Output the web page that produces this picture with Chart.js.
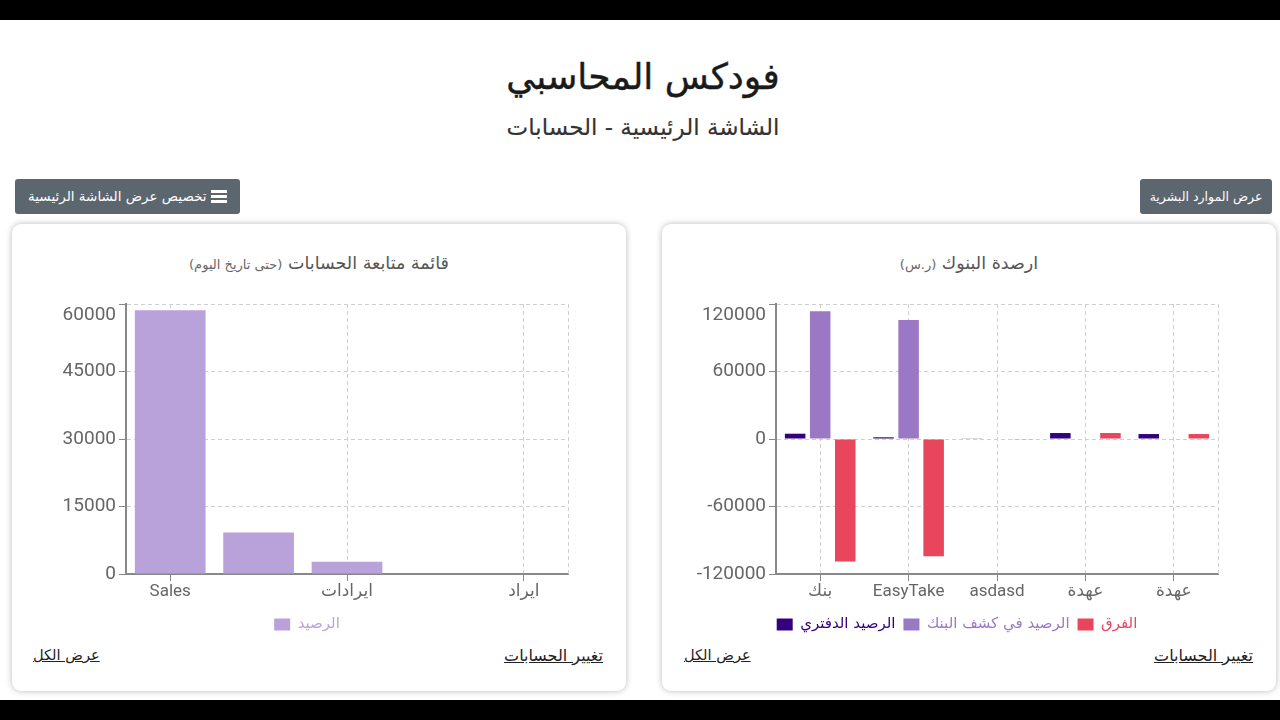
<!DOCTYPE html>
<html lang="ar">
<head>
<meta charset="UTF-8">
<title>فودكس المحاسبي</title>
<script src="https://cdn.jsdelivr.net/npm/chart.js"></script>
<style>
    html, body { margin: 0; padding: 0; background: #fff; }
    body { width: 1280px; height: 720px; position: relative; overflow: hidden; font-family: "DejaVu Sans", sans-serif; }
    .bar { position: absolute; left: 0; width: 1280px; background: #000; }
    .abs { position: absolute; white-space: nowrap; }
    .head { left: 0; width: 1286px; text-align: center; direction: rtl; }
    .btn { background: #5c666e; color: #fff; border-radius: 3px; height: 35px; line-height: 35px; text-align: center; font-size: 12.5px; direction: rtl; }
    .card { position: absolute; top: 224px; width: 614px; height: 467px; background: #fff; border-radius: 9px; box-shadow: 0 0 6px rgba(0,0,0,.28); }
    .card-title { position: absolute; top: 29px; left: 0; width: 100%; text-align: center; direction: rtl; color: #555; font-size: 17.5px; white-space: nowrap; }
    .card-title small { font-size: 13px; color: #666; }
    .card canvas { position: absolute; left: 0; top: 66px; }
    .link { position: absolute; top: 422px; color: #222; text-decoration: underline; direction: rtl; white-space: nowrap; }
</style>
</head>
<body>
<div class="bar" style="top:0;height:20px"></div>
<div class="bar" style="top:700px;height:20px"></div>

<div class="abs head" style="top:56px;font-size:36px;color:#1a1a1a;-webkit-text-stroke:0.4px #1a1a1a">فودكس المحاسبي</div>
<div class="abs head" style="top:114px;font-size:23px;color:#333;-webkit-text-stroke:0.15px #333">الشاشة الرئيسية - الحسابات</div>

<div class="abs btn" style="left:15px;top:179px;width:225px;font-size:13.5px">
    <svg width="16" height="13" viewBox="0 0 16 13" style="vertical-align:-2px"><rect width="16" height="3" fill="#fff"/><rect y="5" width="16" height="3" fill="#fff"/><rect y="10" width="16" height="3" fill="#fff"/></svg>
    تخصيص عرض الشاشة الرئيسية</div>
<div class="abs btn" style="left:1140px;top:179px;width:132px">عرض الموارد البشرية</div>

<div class="card" style="left:12px">
    <div class="card-title">قائمة متابعة الحسابات <small>(حتى تاريخ اليوم)</small></div>
    <canvas id="accountsChart" width="614" height="356"></canvas>
    <a class="link" style="right:23px;font-size:16px">تغيير الحسابات</a>
    <a class="link" style="left:21px;font-size:14.6px">عرض الكل</a>
</div>
<div class="card" style="left:662px">
    <div class="card-title">ارصدة البنوك <small>(ر.س)</small></div>
    <canvas id="banksChart" width="614" height="356"></canvas>
    <a class="link" style="right:23px;font-size:16px">تغيير الحسابات</a>
    <a class="link" style="left:22px;font-size:14.6px">عرض الكل</a>
</div>

<script>
    const account_names = ["Sales", "", "ايرادات", "", "ايراد"];
    const account_balance = [58600, 9200, 2700, 0, 0];

    const bank_names = ["بنك", "EasyTake", "asdasd", "عهدة", "عهدة"];
    const book_balance = [4700, 1500, 300, 5300, 4400];
    const statement_balance = [113500, 105800, 0, 0, 0];
    const difference = [-108800, -104300, -300, 5300, 4400];

    const tick_family = "Roboto, 'DejaVu Sans', sans-serif";

    // dashed right edge of the grid
    const rightEdge = {
        id: "rightEdge",
        beforeDatasetsDraw(chart) {
            const { ctx, chartArea } = chart;
            ctx.save();
            ctx.strokeStyle = "#cfcfcf";
            ctx.setLineDash([4, 3]);
            ctx.beginPath();
            ctx.moveTo(chartArea.right + 0.5, chartArea.top);
            ctx.lineTo(chartArea.right + 0.5, chartArea.bottom);
            ctx.stroke();
            ctx.restore();
        }
    };

    function makeChart(id, labels, datasets, yMax, yStep, xTicks, catPct, barPct) {
        new Chart(document.getElementById(id), {
            type: "bar",
            data: { labels: labels, datasets: datasets },
            plugins: [rightEdge],
            options: {
                responsive: false,
                animation: false,
                categoryPercentage: catPct,
                barPercentage: barPct,
                layout: { padding: { left: 34, top: 14, right: 58, bottom: 4 } },
                plugins: {
                    tooltip: { enabled: false },
                    legend: {
                        position: "bottom",
                        labels: {
                            boxWidth: 16,
                            boxHeight: 12,
                            padding: 8,
                            font: { family: "'DejaVu Sans', sans-serif", size: 15 },
                            generateLabels(chart) {
                                const items = Chart.defaults.plugins.legend.labels.generateLabels(chart);
                                items.forEach((it, i) => { it.fontColor = datasets[i].backgroundColor; });
                                return items;
                            }
                        }
                    }
                },
                scales: {
                    x: {
                        afterFit(s) { s.height = 35; },
                        grid: { offset: false, color: "#cfcfcf", tickColor: "#888", tickLength: 7, tickBorderDash: [] },
                        border: { color: "#888", width: 2, dash: [4, 3] },
                        ticks: Object.assign({ color: "#666", font: { family: tick_family, size: 17 }, maxRotation: 0, padding: 1 }, xTicks)
                    },
                    y: {
                        min: -yMax * (datasets.length > 1 ? 1 : 0),
                        max: yMax,
                        afterFit(s) { s.width = 80; s.paddingTop = 0; },
                        grid: { color: "#cfcfcf", tickColor: "#888", tickLength: 7, tickBorderDash: [] },
                        border: { color: "#888", width: 2, dash: [4, 3] },
                        ticks: {
                            stepSize: yStep,
                            color: "#666",
                            font: { family: tick_family, size: 19 },
                            padding: 3,
                            // top label sits just under the axis end
                            callback: v => v === yMax ? ["", String(v)] : String(v)
                        }
                    }
                }
            }
        });
    }

    makeChart("accountsChart", account_names,
        [{ label: "الرصيد", data: account_balance, backgroundColor: "#b9a1da" }],
        60000, 15000, { autoSkip: true, maxTicksLimit: 3 }, 1, 0.8);

    makeChart("banksChart", bank_names,
        [
            { label: "الرصيد الدفتري", data: book_balance, backgroundColor: "#33007f" },
            { label: "الرصيد في كشف البنك", data: statement_balance, backgroundColor: "#9b78c4" },
            { label: "الفرق", data: difference, backgroundColor: "#e9455c" }
        ],
        120000, 60000, { autoSkip: false }, 0.85, 0.82);
</script>
</body>
</html>
